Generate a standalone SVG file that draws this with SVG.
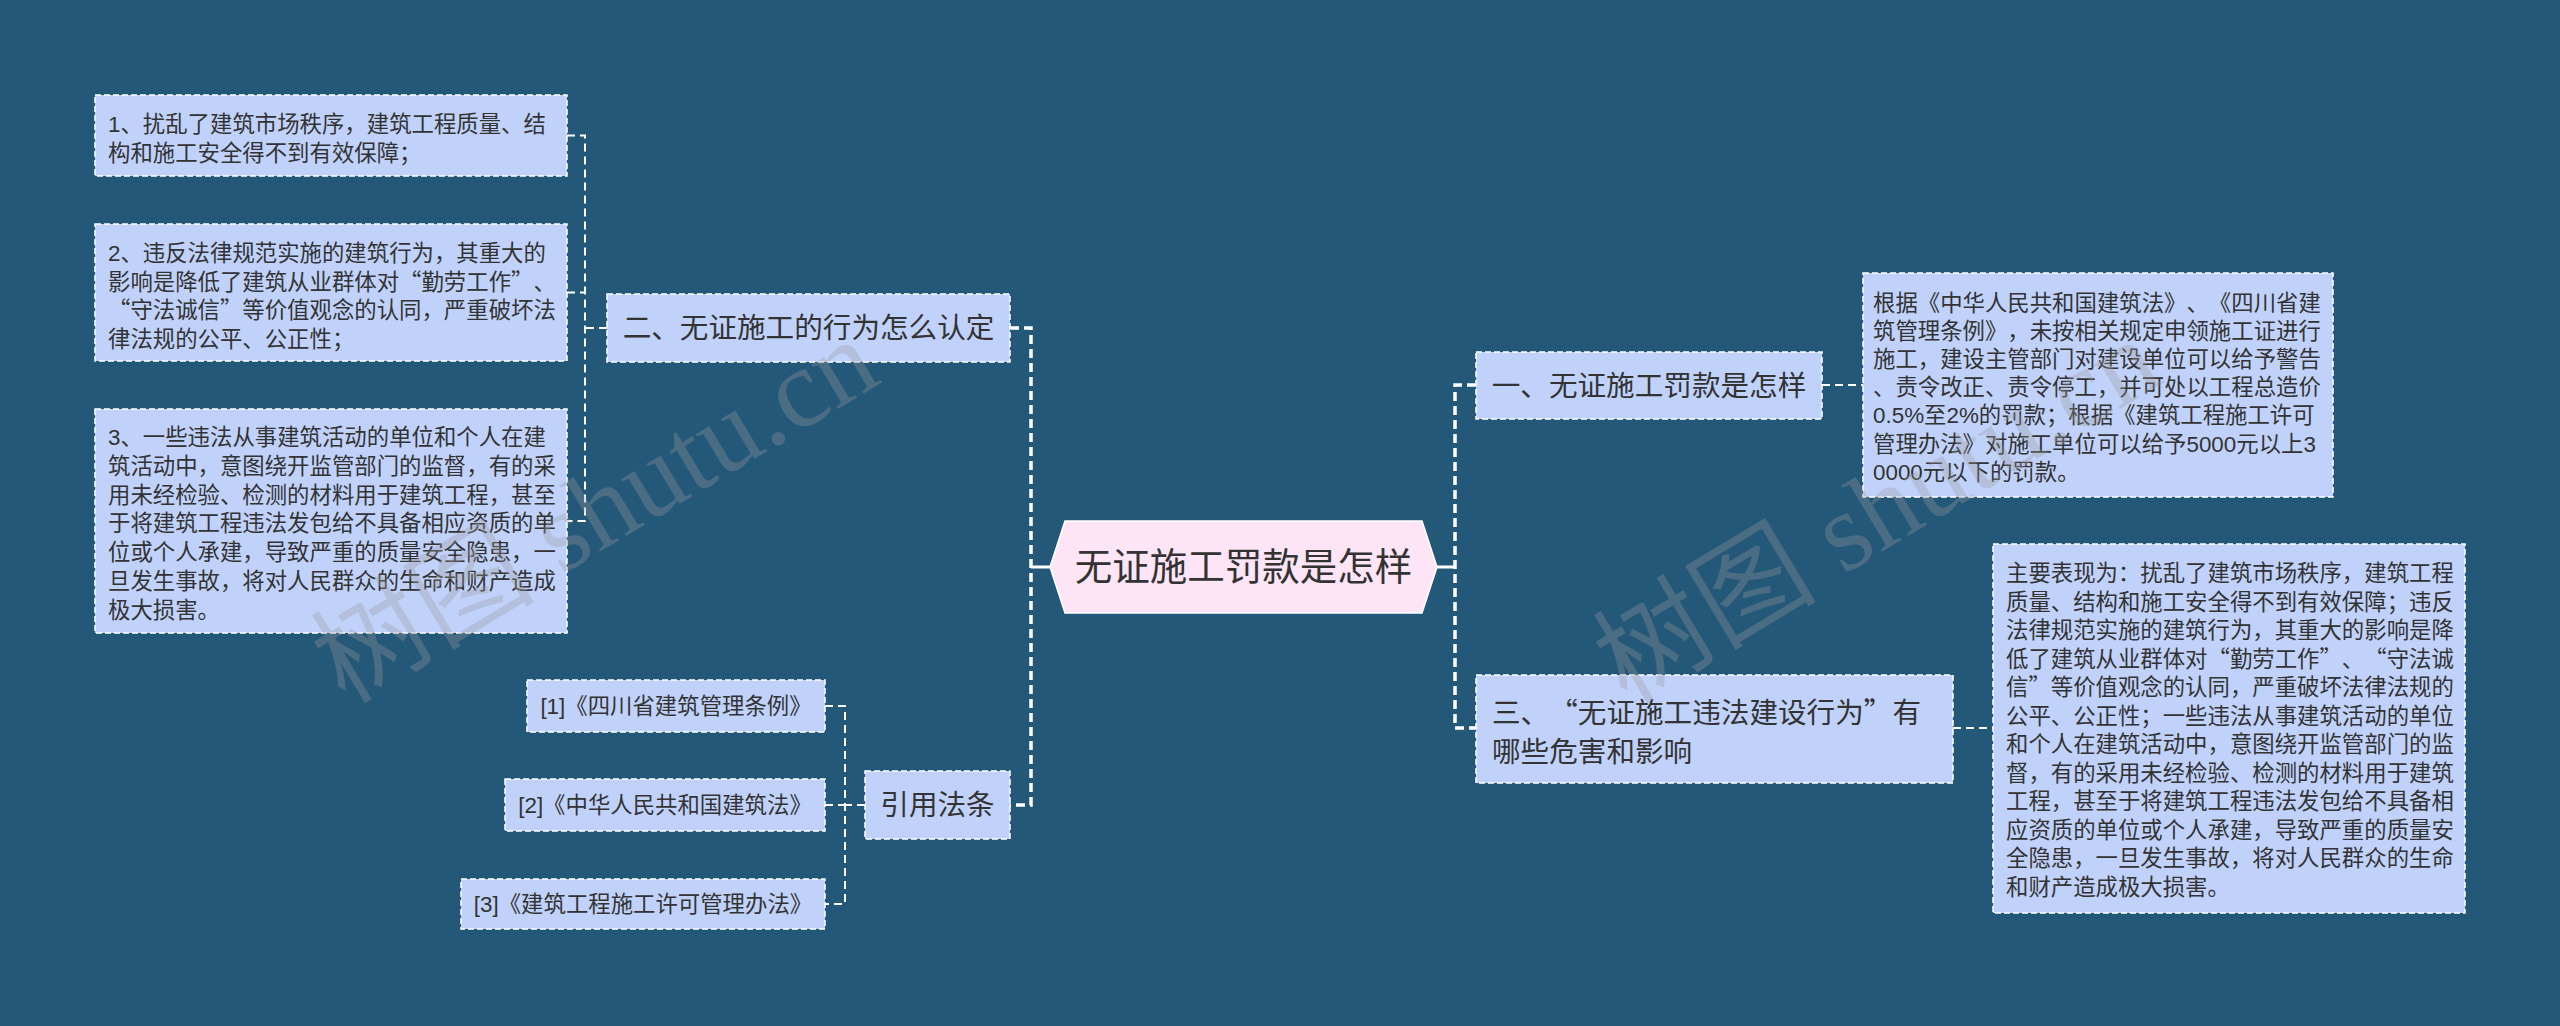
<svg xmlns="http://www.w3.org/2000/svg" width="2560" height="1026" viewBox="0 0 2560 1026">
<style>
text{text-spacing-trim:space-all}
.t{font-family:"Liberation Sans","Noto Sans CJK SC",sans-serif;fill:#333333}
.q{font-family:"Noto Sans CJK SC",sans-serif}
.s{font-size:22.4px}
.m{font-size:28.6px}
.box{fill:#c0d2fa;stroke:#ffffff;stroke-width:1.5;stroke-dasharray:6 3}
.trunk{fill:none;stroke:#ffffff;stroke-width:3.5;stroke-dasharray:9 5}
.br{fill:none;stroke:#ffffff;stroke-width:2;stroke-dasharray:8 5}
.solid{fill:none;stroke:#ffffff;stroke-width:3}
.wm{font-family:"Liberation Serif","Noto Sans CJK SC",serif;font-size:112px;fill:#9a9a9a;fill-opacity:0.32}
</style>
<rect x="0" y="0" width="2560" height="1026" fill="#245879"/>

<g id="connectors">
<path class="solid" d="M1050 567 H1031"/>
<path class="solid" d="M1437 567 H1455"/>
<path class="trunk" d="M1010 328 H1031 V805 H1010"/>
<path class="trunk" d="M1476 385 H1455 V728 H1476"/>
<path class="br" d="M607 328 H585"/>
<path class="br" d="M567 135.5 H585 V521 H567"/>
<path class="br" d="M567 292.5 H585"/>
<path class="br" d="M865 805 H845"/>
<path class="br" d="M825 706 H845 V904 H825"/>
<path class="br" d="M825 805 H845"/>
<path class="br" d="M1822 385 H1863"/>
<path class="br" d="M1953 728 H1993"/>
</g>

<g id="center">
<polygon points="1050,567 1065,521 1422,521 1437,567 1422,613 1065,613" fill="#fde5f6" stroke="#ffffff" stroke-width="1.5"/>
<text class="t" x="1243.5" y="580" font-size="37.5" text-anchor="middle">无证施工罚款是怎样</text>
</g>

<g id="node-er">
<rect class="box" x="607" y="294" width="403" height="68"/>
<text class="t m" x="808.5" y="338" text-anchor="middle">二、无证施工的行为怎么认定</text>
</g>

<g id="node-er-1">
<rect class="box" x="95" y="95" width="472" height="81"/>
<text class="t s" x="108"><tspan x="108" y="132">1、扰乱了建筑市场秩序，建筑工程质量、结</tspan><tspan x="108" y="160.7">构和施工安全得不到有效保障；</tspan></text>
</g>

<g id="node-er-2">
<rect class="box" x="95" y="224" width="472" height="137"/>
<text class="t s"><tspan x="108" y="261">2、违反法律规范实施的建筑行为，其重大的</tspan><tspan x="108" y="289.7">影响是降低了建筑从业群体对<tspan class="q">“</tspan>勤劳工作<tspan class="q">”</tspan>、</tspan><tspan x="108" y="318.4"><tspan class="q">“</tspan>守法诚信<tspan class="q">”</tspan>等价值观念的认同，严重破坏法</tspan><tspan x="108" y="347.1">律法规的公平、公正性；</tspan></text>
</g>

<g id="node-er-3">
<rect class="box" x="95" y="409" width="472" height="224"/>
<text class="t s"><tspan x="108" y="445">3、一些违法从事建筑活动的单位和个人在建</tspan><tspan x="108" y="473.8">筑活动中，意图绕开监管部门的监督，有的采</tspan><tspan x="108" y="502.6">用未经检验、检测的材料用于建筑工程，甚至</tspan><tspan x="108" y="531.4">于将建筑工程违法发包给不具备相应资质的单</tspan><tspan x="108" y="560.2">位或个人承建，导致严重的质量安全隐患，一</tspan><tspan x="108" y="589">旦发生事故，将对人民群众的生命和财产造成</tspan><tspan x="108" y="617.8">极大损害。</tspan></text>
</g>

<g id="node-yinyong">
<rect class="box" x="865" y="771" width="145" height="68"/>
<text class="t m" x="937.5" y="815" text-anchor="middle">引用法条</text>
</g>

<g id="ref-1">
<rect class="box" x="527" y="680" width="298" height="52"/>
<text class="t s" x="676" y="714" text-anchor="middle">[1]《四川省建筑管理条例》</text>
</g>
<g id="ref-2">
<rect class="box" x="505" y="779" width="320" height="52"/>
<text class="t s" x="665" y="813" text-anchor="middle">[2]《中华人民共和国建筑法》</text>
</g>
<g id="ref-3">
<rect class="box" x="461" y="879" width="364" height="50"/>
<text class="t s" x="643" y="912" text-anchor="middle">[3]《建筑工程施工许可管理办法》</text>
</g>

<g id="node-yi">
<rect class="box" x="1476" y="352" width="346" height="67"/>
<text class="t m" x="1649" y="396" text-anchor="middle">一、无证施工罚款是怎样</text>
</g>

<g id="node-yi-1">
<rect class="box" x="1863" y="273" width="470" height="224"/>
<text class="t s"><tspan x="1873" y="311">根据《中华人民共和国建筑法》、《四川省建</tspan><tspan x="1873" y="339.1">筑管理条例》，未按相关规定申领施工证进行</tspan><tspan x="1873" y="367.2">施工，建设主管部门对建设单位可以给予警告</tspan><tspan x="1873" y="395.3">、责令改正、责令停工，并可处以工程总造价</tspan><tspan x="1873" y="423.4">0.5%至2%的罚款；根据《建筑工程施工许可</tspan><tspan x="1873" y="451.5">管理办法》对施工单位可以给予5000元以上3</tspan><tspan x="1873" y="479.6">0000元以下的罚款。</tspan></text>
</g>

<g id="node-san">
<rect class="box" x="1476" y="675" width="477" height="108"/>
<text class="t m"><tspan x="1492" y="723">三、<tspan class="q">“</tspan>无证施工违法建设行为<tspan class="q">”</tspan>有</tspan><tspan x="1492" y="762">哪些危害和影响</tspan></text>
</g>

<g id="node-san-1">
<rect class="box" x="1993" y="544" width="472" height="369"/>
<text class="t s"><tspan x="2006" y="581.3">主要表现为：扰乱了建筑市场秩序，建筑工程</tspan><tspan x="2006" y="609.8">质量、结构和施工安全得不到有效保障；违反</tspan><tspan x="2006" y="638.3">法律规范实施的建筑行为，其重大的影响是降</tspan><tspan x="2006" y="666.8">低了建筑从业群体对<tspan class="q">“</tspan>勤劳工作<tspan class="q">”</tspan>、<tspan class="q">“</tspan>守法诚</tspan><tspan x="2006" y="695.3">信<tspan class="q">”</tspan>等价值观念的认同，严重破坏法律法规的</tspan><tspan x="2006" y="723.8">公平、公正性；一些违法从事建筑活动的单位</tspan><tspan x="2006" y="752.3">和个人在建筑活动中，意图绕开监管部门的监</tspan><tspan x="2006" y="780.8">督，有的采用未经检验、检测的材料用于建筑</tspan><tspan x="2006" y="809.3">工程，甚至于将建筑工程违法发包给不具备相</tspan><tspan x="2006" y="837.8">应资质的单位或个人承建，导致严重的质量安</tspan><tspan x="2006" y="866.3">全隐患，一旦发生事故，将对人民群众的生命</tspan><tspan x="2006" y="894.8">和财产造成极大损害。</tspan></text>
</g>

<g id="watermark">
<text class="wm" x="345" y="705" transform="rotate(-31 345 705)">树图 shutu.cn</text>
<text class="wm" x="1627" y="705" transform="rotate(-31 1627 705)">树图 shutu.cn</text>
</g>
</svg>
